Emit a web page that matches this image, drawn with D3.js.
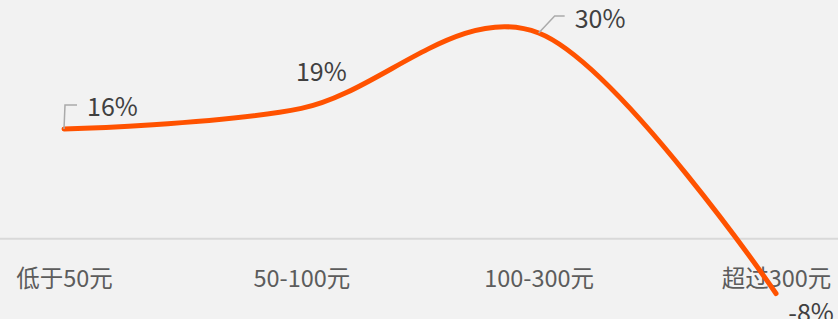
<!DOCTYPE html>
<html>
<head>
<meta charset="utf-8">
<style>
html, body {
  margin: 0;
  padding: 0;
  background: #f2f2f2;
}
svg text {
  font-family: "Microsoft YaHei", "Noto Sans CJK SC", "Noto Sans", sans-serif;
}
</style>
</head>
<body>
<svg id="chart"></svg>
<script src="https://cdn.jsdelivr.net/npm/d3@7"></script>
<script>
var categories = ['低于50元', '50-100元', '100-300元', '超过300元'];
var values = [16, 19, 30, -8];
var valueLabels = ['16%', '19%', '30%', '-8%'];

var width = 838;
var height = 319;

// label placement per point: leader path offsets and text offset
var labelStyle = [
  {leader: [[0, 0], [1, -24], [13, -24]], text: [23, -13], anchor: 'start'},
  {leader: null, text: [20, -27], anchor: 'middle'},
  {leader: [[0, 0], [16, -17], [26, -17]], text: [36, -5], anchor: 'start'},
  {leader: null, text: [35, 28], anchor: 'middle'}
];

var x = d3.scalePoint().domain(categories).range([64, 776]);
var y = d3.scaleLinear().domain([-8, 30]).range([293.5, 33]);

var svg = d3.select('#chart')
  .attr('width', width)
  .attr('height', height);

// zero line
svg.append('line')
  .attr('x1', 0)
  .attr('x2', width)
  .attr('y1', y(0))
  .attr('y2', y(0))
  .attr('stroke', '#d9d9d9')
  .attr('stroke-width', 2);

// category labels
var axis = svg.append('g')
  .attr('transform', 'translate(0,' + y(0) + ')')
  .call(d3.axisBottom(x).tickSize(0));
axis.select('.domain').remove();
axis.selectAll('text')
  .attr('y', 48)
  .attr('dy', 0)
  .attr('fill', '#5c5c5c')
  .style('font-size', '23.5px');

// line
var line = d3.line()
  .x(function (d, i) { return x(categories[i]); })
  .y(function (d) { return y(d); })
  .curve(d3.curveCardinal.tension(0));

svg.append('path')
  .datum(values)
  .attr('d', line)
  .attr('fill', 'none')
  .attr('stroke', '#ff5200')
  .attr('stroke-width', 5)
  .attr('stroke-linecap', 'round')
  .attr('stroke-linejoin', 'round');

// value labels
values.forEach(function (v, i) {
  var px = x(categories[i]);
  var py = y(v);
  var s = labelStyle[i];
  if (s.leader) {
    svg.append('path')
      .attr('d', d3.line()(s.leader.map(function (p) { return [px + p[0], py + p[1]]; })))
      .attr('fill', 'none')
      .attr('stroke', '#aaaaaa')
      .attr('stroke-width', 1.5);
  }
  svg.append('text')
    .attr('x', px + s.text[0])
    .attr('y', py + s.text[1])
    .attr('text-anchor', s.anchor)
    .attr('fill', '#404040')
    .style('font-size', '25px')
    .text(valueLabels[i]);
});
</script>
</body>
</html>
